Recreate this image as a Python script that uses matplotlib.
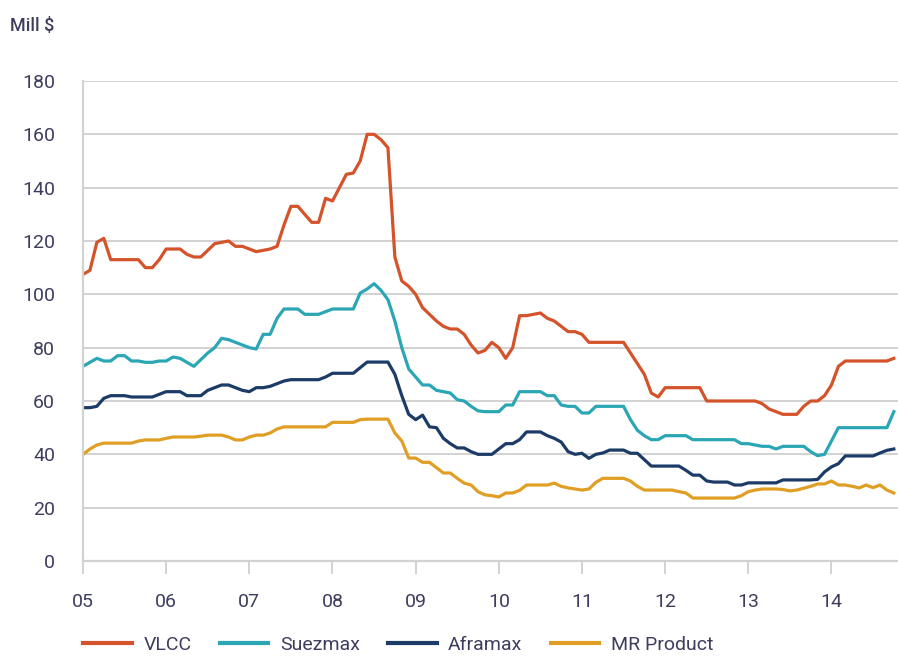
import numpy as np
import matplotlib
matplotlib.use("Agg")
import matplotlib.pyplot as plt

# monthly newbuilding prices, Jan 2005 .. Oct 2014 (Mill $)
vlcc = [107.5, 109, 119.5, 121, 113, 113, 113, 113, 113, 110, 110, 113,
        117, 117, 117, 115, 114, 114, 116.5, 119, 119.5, 120, 118, 118,
        117, 116, 116.5, 117, 118, 126, 133, 133, 130, 127, 127, 136,
        135, 140, 145, 145.5, 150, 160, 160, 158, 155, 114, 105, 103,
        100, 95, 92.5, 90, 88, 87, 87, 85, 81, 78, 79, 82,
        80, 76, 80, 92, 92, 92.5, 93, 91, 90, 88, 86, 86,
        85, 82, 82, 82, 82, 82, 82, 78, 74, 70, 63, 61.5,
        65, 65, 65, 65, 65, 65, 60, 60, 60, 60, 60, 60,
        60, 60, 59, 57, 56, 55, 55, 55, 58, 60, 60, 62,
        66, 73, 75, 75, 75, 75, 75, 75, 75, 76]
suezmax = [73, 74.5, 76, 75, 75, 77, 77, 75, 75, 74.5, 74.5, 75,
           75, 76.5, 76, 74.5, 73, 75.5, 78, 80, 83.5, 83, 82, 81,
           80, 79.5, 85, 85, 91, 94.5, 94.5, 94.5, 92.5, 92.5, 92.5, 93.5,
           94.5, 94.5, 94.5, 94.5, 100.5, 102, 104, 101.5, 98, 90, 80, 72,
           69, 66, 66, 64, 63.5, 63, 60.5, 60, 58, 56.3, 56, 56,
           56, 58.5, 58.5, 63.5, 63.5, 63.5, 63.5, 62, 62, 58.5, 58, 58,
           55.5, 55.5, 58, 58, 58, 58, 58, 53, 49, 47, 45.5, 45.5,
           47, 47, 47, 47, 45.5, 45.5, 45.5, 45.5, 45.5, 45.5, 45.5, 44,
           44, 43.5, 43, 43, 42, 43, 43, 43, 43, 41, 39.5, 40,
           45, 50, 50, 50, 50, 50, 50, 50, 50, 56]
aframax = [57.5, 57.5, 58, 61, 62, 62, 62, 61.5, 61.5, 61.5, 61.5, 62.5,
           63.5, 63.5, 63.5, 62, 62, 62, 64, 65, 66, 66, 65, 64,
           63.5, 65, 65, 65.5, 66.5, 67.5, 68, 68, 68, 68, 68, 69,
           70.4, 70.4, 70.4, 70.4, 72.5, 74.6, 74.6, 74.6, 74.6, 70, 62, 55,
           53, 54.7, 50.3, 50, 46, 44, 42.4, 42.4, 41, 40, 40, 40,
           42, 44, 44, 45.5, 48.4, 48.4, 48.4, 47, 46, 44.6, 41, 40,
           40.4, 38.5, 40, 40.5, 41.6, 41.6, 41.6, 40.4, 40.4, 38, 35.6, 35.6,
           35.6, 35.6, 35.6, 34, 32.2, 32.2, 30, 29.6, 29.6, 29.6, 28.5, 28.5,
           29.3, 29.3, 29.3, 29.3, 29.3, 30.4, 30.4, 30.4, 30.4, 30.4, 30.6, 33.4,
           35.3, 36.5, 39.4, 39.4, 39.4, 39.4, 39.4, 40.5, 41.5, 42]
mr_product = [40, 42, 43.5, 44.2, 44.2, 44.2, 44.2, 44.2, 45, 45.4, 45.4, 45.4,
              46, 46.5, 46.5, 46.5, 46.5, 46.8, 47.2, 47.2, 47.2, 46.5, 45.4, 45.4,
              46.5, 47.2, 47.2, 48, 49.5, 50.3, 50.3, 50.3, 50.3, 50.3, 50.3, 50.3,
              52, 52, 52, 52, 53, 53.2, 53.2, 53.2, 53.2, 48, 45, 38.6,
              38.6, 37, 37, 35, 33, 33, 31, 29.2, 28.5, 26, 24.8, 24.5,
              24, 25.5, 25.5, 26.5, 28.5, 28.5, 28.5, 28.5, 29.2, 28, 27.4, 27,
              26.6, 27, 29.5, 31, 31, 31, 31, 30, 28, 26.6, 26.6, 26.6,
              26.6, 26.6, 26, 25.5, 23.6, 23.6, 23.6, 23.6, 23.6, 23.6, 23.6, 24.5,
              26, 26.6, 27, 27, 27, 26.8, 26.3, 26.6, 27.3, 28, 28.9, 28.9,
              30, 28.5, 28.5, 28, 27.4, 28.5, 27.5, 28.5, 26.6, 25.5]

year_ticks = [5, 6, 7, 8, 9, 10, 11, 12, 13, 14]
year_labels = ["05", "06", "07", "08", "09", "10", "11", "12", "13", "14"]
y_ticks = [0, 20, 40, 60, 80, 100, 120, 140, 160, 180]

series = [("VLCC", vlcc, "#d4532a"),
          ("Suezmax", suezmax, "#2aa6b4"),
          ("Aframax", aframax, "#1c3b66"),
          ("MR Product", mr_product, "#e09f24")]

plt.rcParams['font.family'] = ['Roboto', 'DejaVu Sans']
text_col = "#3e3d5e"
grid_col = "#d2d2d2"

fig = plt.figure(figsize=(8.98, 6.57), dpi=100)
ax = fig.add_axes([83 / 898, 1 - 561 / 657, 1 - 83 / 898, 480 / 657])

for name, vals, col in series:
    x = 5 + np.arange(len(vals)) / 12.0
    ax.plot(x, vals, color=col, lw=2.3, label=name, solid_joinstyle='round')

ax.set_xlim(5, 5 + 117.6 / 12)
ax.set_ylim(0, 180)
ax.set_yticks(y_ticks)
ax.set_xticks(year_ticks)
ax.set_xticklabels(year_labels)
ax.yaxis.grid(True, color=grid_col, lw=1.4)
ax.set_axisbelow(True)
for s in ["top", "right"]:
    ax.spines[s].set_visible(False)
for s in ["left", "bottom"]:
    ax.spines[s].set_color(grid_col)
    ax.spines[s].set_linewidth(1.6)
ax.tick_params(axis='y', length=0, pad=20, labelsize=14, labelcolor=text_col)
ax.tick_params(axis='x', length=9, width=1.4, color=grid_col, pad=14,
               labelsize=14, labelcolor=text_col)

fig.text(10 / 898, 1 - 26 / 657, "Mill $", fontsize=13, color=text_col,
         va='center', ha='left', fontweight='medium')

fig.legend(loc='center left', bbox_to_anchor=(83 / 898, 1 - 645 / 657),
           ncol=4, frameon=False, fontsize=14, handlelength=2.5,
           handletextpad=0.6, columnspacing=1.45, borderpad=0, borderaxespad=0,
           labelcolor=text_col)
for line in fig.legends[0].get_lines():
    line.set_linewidth(3)

fig.savefig("out.png", dpi=100)
